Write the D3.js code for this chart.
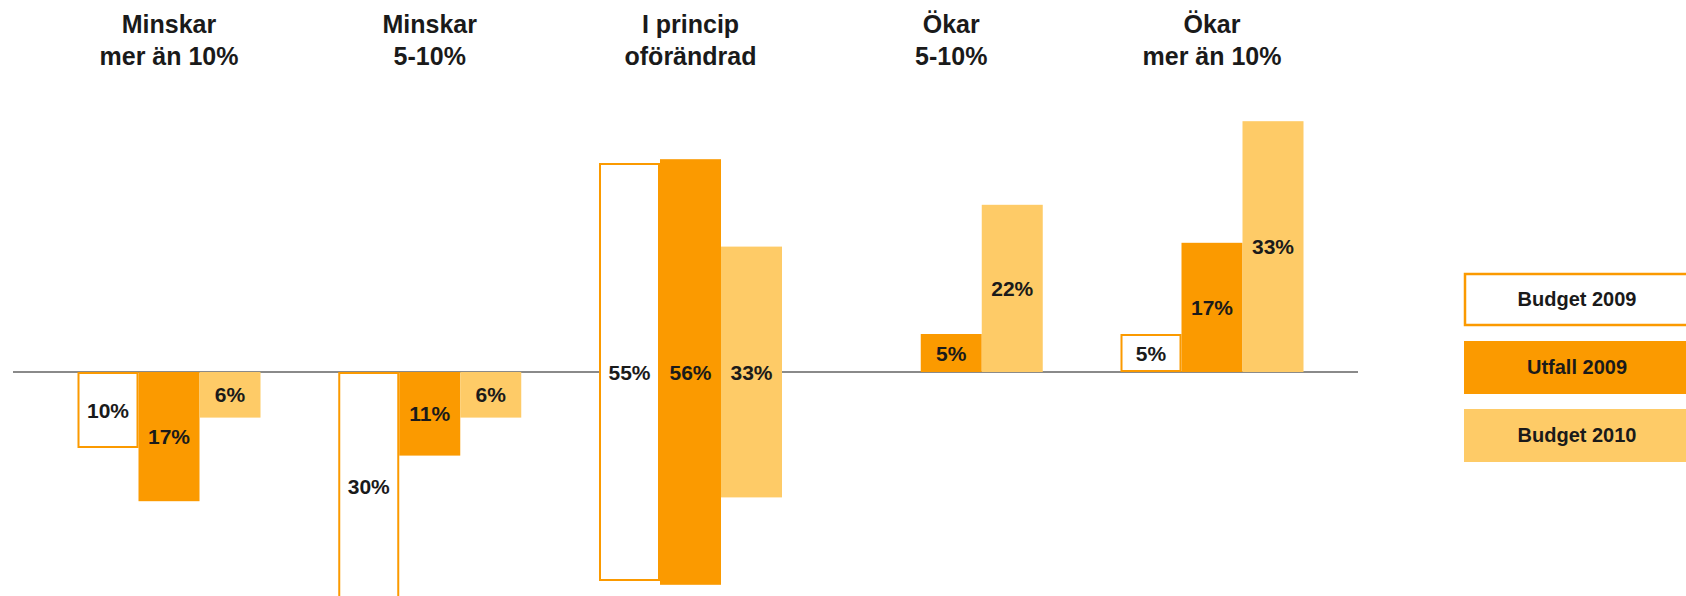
<!DOCTYPE html>
<html>
<head>
<meta charset="utf-8">
<script src="https://cdn.jsdelivr.net/npm/d3@7"></script>
<style>
  html, body { margin: 0; padding: 0; background: #fff; }
  svg { display: block; }
  text { font-family: "Liberation Sans", Arial, sans-serif; font-weight: bold; fill: #1a1a1a; }
</style>
</head>
<body>
<svg id="chart" width="1686" height="596"></svg>
<script>
// ---- Data ----
const categories = [
  ["Minskar", "mer än 10%"],
  ["Minskar", "5-10%"],
  ["I princip", "oförändrad"],
  ["Ökar", "5-10%"],
  ["Ökar", "mer än 10%"]
];
// direction of bars relative to the axis line for each category
const directions = ["down", "down", "center", "up", "up"];
const seriesNames = ["Budget 2009", "Utfall 2009", "Budget 2010"];
const budget2009 = [10, 30, 55, 0, 5];
const utfall2009 = [17, 11, 56, 5, 17];
const budget2010 = [6, 6, 33, 22, 33];
const seriesValues = [budget2009, utfall2009, budget2010];

// ---- Styles ----
const fills = ["#ffffff", "#FB9A00", "#FECB67"];
const strokes = ["#FB9A00", "none", "none"];

const svg = d3.select("#chart");
const axisY = 372;

const x = d3.scalePoint().domain(d3.range(categories.length)).range([169, 1212]);
const barW = 61;
const xOff = d3.scaleBand().domain(d3.range(seriesNames.length)).range([-1.5 * barW, 1.5 * barW]).padding(0);
const y = d3.scaleLinear().domain([-40, 40]).range([axisY + 304, axisY - 304]);

// axis line
svg.append("line")
  .attr("x1", 13).attr("x2", 1358)
  .attr("y1", y(0)).attr("y2", y(0))
  .attr("stroke", "#8a8a8a").attr("stroke-width", 2);

function extent(v, dir) {
  if (dir === "down") return [y(0), y(-v)];
  if (dir === "up") return [y(v), y(0)];
  return [y(v / 2), y(-v / 2)];
}

const bars = [];
seriesValues.forEach((vals, s) => {
  vals.forEach((v, c) => {
    if (v > 0) bars.push({ s, c, v, dir: directions[c] });
  });
});

const g = svg.append("g");
g.selectAll("rect.bar").data(bars).join("rect")
  .attr("class", "bar")
  .attr("x", d => x(d.c) + xOff(d.s) + (d.s === 0 ? 1 : 0))
  .attr("width", d => xOff.bandwidth() - (d.s === 0 ? 2 : 0))
  .attr("y", d => extent(d.v, d.dir)[0] + (d.s === 0 ? 1 : 0))
  .attr("height", d => { const e = extent(d.v, d.dir); return e[1] - e[0] - (d.s === 0 ? 2 : 0); })
  .attr("fill", d => fills[d.s])
  .attr("stroke", d => strokes[d.s])
  .attr("stroke-width", 2);

g.selectAll("text.lbl").data(bars).join("text")
  .attr("class", "lbl")
  .attr("x", d => x(d.c) + xOff(d.s) + xOff.bandwidth() / 2)
  .attr("y", d => { const e = extent(d.v, d.dir); return (e[0] + e[1]) / 2; })
  .attr("text-anchor", "middle")
  .attr("dominant-baseline", "central")
  .style("font-size", "21px")
  .text(d => d.v + "%");

// category titles
const titles = svg.append("g");
categories.forEach((lines, c) => {
  const t = titles.append("text")
    .attr("text-anchor", "middle")
    .style("font-size", "25px");
  lines.forEach((ln, i) => {
    t.append("tspan").attr("x", x(c)).attr("y", 33 + i * 32).text(ln);
  });
});

// legend
const leg = svg.append("g");
const legY = d3.scalePoint().domain(d3.range(seriesNames.length)).range([299, 435]);
seriesNames.forEach((name, i) => {
  leg.append("rect")
    .attr("x", 1464 + (i === 0 ? 1 : 0)).attr("width", 228)
    .attr("y", legY(i) - 26 + (i === 0 ? 1 : 0)).attr("height", 53 - (i === 0 ? 2 : 0))
    .attr("fill", fills[i])
    .attr("stroke", strokes[i])
    .attr("stroke-width", 2.5);
  leg.append("text")
    .attr("x", 1577).attr("y", legY(i))
    .attr("text-anchor", "middle")
    .attr("dominant-baseline", "central")
    .style("font-size", "20px")
    .text(name);
});
</script>
</body>
</html>
